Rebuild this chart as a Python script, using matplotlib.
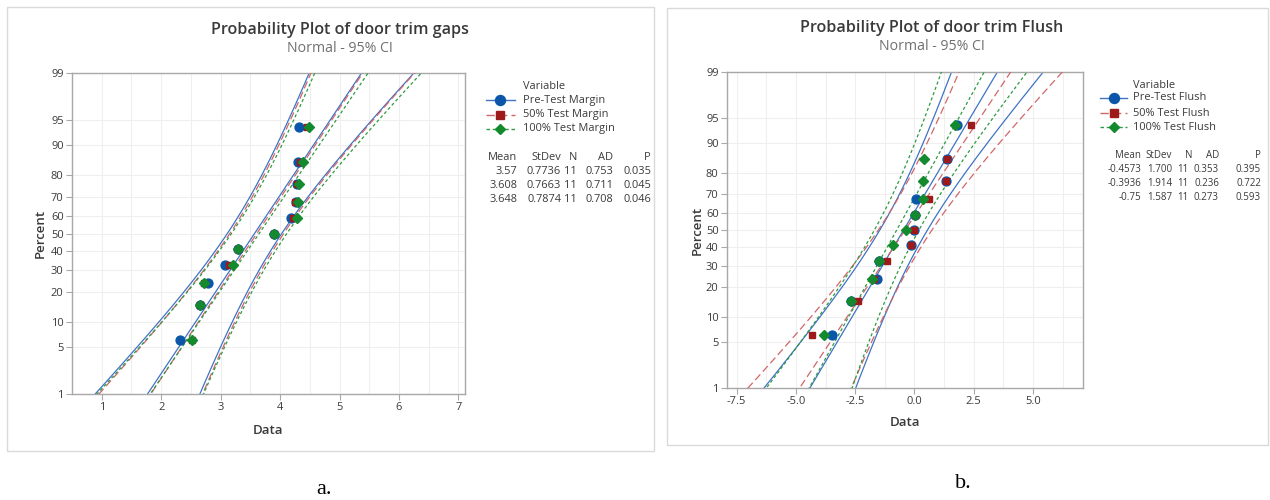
import matplotlib
matplotlib.use("Agg")
import matplotlib.pyplot as plt
from matplotlib.lines import Line2D
from matplotlib.patches import Rectangle
import numpy as np
from statistics import NormalDist

plt.rcParams['font.family'] = ['Open Sans', 'DejaVu Sans']

# ---- data ----
series_a = ["Pre-Test Margin", "50% Test Margin", "100% Test Margin"]
pre_margin = [2.31, 2.65, 2.78, 3.07, 3.29, 3.90, 4.19, 4.27, 4.29, 4.30, 4.31]
half_margin = [2.51, 2.65, 2.72, 3.14, 3.29, 3.90, 4.22, 4.25, 4.28, 4.34, 4.45]
full_margin = [2.51, 2.65, 2.72, 3.20, 3.29, 3.90, 4.29, 4.30, 4.32, 4.39, 4.49]
mean_a = [3.57, 3.608, 3.648]
sd_a = [0.7736, 0.7663, 0.7874]
ad_a = [0.753, 0.711, 0.708]
p_a = [0.035, 0.045, 0.046]

series_b = ["Pre-Test Flush", "50% Test Flush", "100% Test Flush"]
pre_flush = [-3.49, -2.68, -1.59, -1.50, -0.15, 0.00, 0.03, 0.07, 1.33, 1.37, 1.78]
half_flush = [-4.34, -2.40, -1.69, -1.17, -0.15, 0.00, 0.03, 0.60, 1.33, 1.37, 2.39]
full_flush = [-3.80, -2.68, -1.80, -1.50, -0.89, -0.36, 0.03, 0.35, 0.38, 0.42, 1.71]
mean_b = [-0.4573, -0.3936, -0.75]
sd_b = [1.700, 1.914, 1.587]
ad_b = [0.353, 0.236, 0.273]
p_b = [0.395, 0.722, 0.593]
n_obs = 11

pct_ticks = [1, 5, 10, 20, 30, 40, 50, 60, 70, 80, 90, 95, 99]

# ---- styles ----
pt_col = ['#0B56A8', '#9E1A1A', '#138A2E']
ln_col = ['#3F73C4', '#D0676A', '#2E9A42']
ln_dash = [None, (6, 3), (2.5, 2)]
mk = ['o', 's', 'D']
ms = [6.4, 4.8, 4.6]
txt = '#3A3A3A'
fs_leg = 7.9

nd = NormalDist()
W, H = 1270, 500
fig = plt.figure(figsize=(12.7, 5.0), dpi=100)


def fx(px):
    return px / W


def fy(py):
    return 1 - py / H


def prob_plot(rect, data, means, sds, names, ads, ps, xlim, xmaj, xmin,
              title, ttl_xy, leg, tbl_y, tbl_cols, tbl_fs, ylab_x, xlab_y):
    ax = fig.add_axes(rect)
    z_pts = [nd.inv_cdf((i + 1 - 0.3) / (n_obs + 0.4)) for i in range(n_obs)]
    zg = np.linspace(nd.inv_cdf(0.005), nd.inv_cdf(0.995), 200)
    for k in range(3):
        mu, s = means[k], sds[k]
        fit = mu + zg * s
        half = 1.96 * s * np.sqrt((1 + zg ** 2 / 2) / n_obs)
        for xs in (fit, fit - half, fit + half):
            l, = ax.plot(xs, zg, color=ln_col[k], lw=0.9, zorder=2 + k)
            if ln_dash[k]:
                l.set_dashes(ln_dash[k])
    for k in range(3):
        ax.plot(data[k], z_pts, ls='none', marker=mk[k], ms=ms[k],
                color=pt_col[k], mec=pt_col[k], zorder=6 + k)
    ax.set_xlim(*xlim)
    ax.set_ylim(nd.inv_cdf(0.01), nd.inv_cdf(0.99))
    ax.set_yticks([nd.inv_cdf(p / 100) for p in pct_ticks])
    ax.set_yticklabels([str(p) for p in pct_ticks])
    ax.set_xticks(xmaj)
    ax.set_xticks(xmin, minor=True)
    if xlim[0] > 0:
        ax.set_xticklabels(['%g' % v for v in xmaj])
    else:
        ax.set_xticklabels(['%.1f' % v for v in xmaj])
    ax.grid(True, which='both', color='#EFEFEF', lw=0.8, zorder=0)
    ax.set_axisbelow(True)
    for sp in ax.spines.values():
        sp.set_color('#A8A8A8')
        sp.set_linewidth(1.0)
    ax.tick_params(which='major', length=4, color='#A8A8A8', labelsize=8,
                   labelcolor=txt, pad=2)
    ax.tick_params(axis='x', which='minor', length=0)
    fig.text(ylab_x, rect[1] + rect[3] / 2, 'Percent', rotation=90,
             ha='center', va='center', fontsize=9.5, color=txt, fontweight='semibold')
    fig.text(rect[0] + rect[2] / 2, xlab_y, 'Data', ha='center', va='center',
             fontsize=9.5, color=txt, fontweight='semibold')
    fig.text(ttl_xy[0], ttl_xy[1], title, ha='center', va='center',
             fontsize=11.6, color=txt, fontweight='semibold')
    fig.text(ttl_xy[0], ttl_xy[1] - 0.036, 'Normal - 95% CI', ha='center',
             va='center', fontsize=10.2, color='#707070')

    # legend
    lx0, lx1, ltx, ly = leg
    fig.text(fx(ltx), fy(ly[0]), 'Variable', ha='left', va='center',
             fontsize=fs_leg, color=txt)
    for k in range(3):
        yy = fy(ly[k + 1])
        l = Line2D([fx(lx0), fx(lx1)], [yy, yy], transform=fig.transFigure,
                   color=ln_col[k], lw=1.0)
        if ln_dash[k]:
            l.set_dashes(ln_dash[k])
        fig.add_artist(l)
        fig.add_artist(Line2D([fx((lx0 + lx1) / 2)], [yy], transform=fig.transFigure,
                              marker=mk[k], ms=ms[k] + 0.8, color=pt_col[k], ls='none'))
        fig.text(fx(ltx), yy, names[k], ha='left', va='center', fontsize=fs_leg, color=txt)

    # stats table
    heads = ['Mean', 'StDev', 'N', 'AD', 'P']
    for c, hd in enumerate(heads):
        fig.text(fx(tbl_cols[c]), fy(tbl_y[0]), hd, ha='right', va='center',
                 fontsize=tbl_fs, color=txt)
    for k in range(3):
        vals = ['%g' % means[k],
                ('%.4g' % sds[k]) if sds[k] < 1 else '%.3f' % sds[k],
                str(n_obs), '%.3f' % ads[k], '%.3f' % ps[k]]
        for c, v in enumerate(vals):
            x = tbl_cols[c] - (4 if (c == 2 and tbl_cols[0] > 1000) else 0)
            fig.text(fx(x), fy(tbl_y[k + 1]), v, ha='right', va='center',
                     fontsize=tbl_fs, color=txt)
    return ax


# panel a
prob_plot([fx(72), fy(394), fx(465 - 72), (394 - 73) / H],
          [pre_margin, half_margin, full_margin], mean_a, sd_a, series_a, ad_a, p_a,
          (0.52, 7.11), [1, 2, 3, 4, 5, 6, 7], np.arange(0.5, 7.2, 0.5),
          'Probability Plot of door trim gaps', (fx(340), fy(30)),
          (486, 515, 523, [87, 100, 115, 129]), [157, 172, 186, 200],
          [517, 561, 577, 613, 651], fs_leg, fx(40), fy(431))

# panel b
prob_plot([fx(727), fy(388), fx(1083 - 727), (388 - 72) / H],
          [pre_flush, half_flush, full_flush], mean_b, sd_b, series_b, ad_b, p_b,
          (-7.91, 7.11), [-7.5, -5.0, -2.5, 0.0, 2.5, 5.0], np.arange(-7.5, 7.2, 1.25),
          'Probability Plot of door trim Flush', (fx(932), fy(28)),
          (1100, 1127, 1133, [85, 98, 113, 127]), [155, 169, 183, 197],
          [1141, 1172, 1192, 1219, 1261], 7.0, fx(697), fy(423))

# panel frames
fig.add_artist(Rectangle((fx(7), fy(451)), fx(654 - 7), (451 - 7) / H,
                         transform=fig.transFigure, fill=False, ec='#DADADA', lw=1.0))
fig.add_artist(Rectangle((fx(667), fy(445)), fx(1268 - 667), (445 - 8) / H,
                         transform=fig.transFigure, fill=False, ec='#DADADA', lw=1.0))

# captions
fig.text(fx(324), fy(489), 'a.', ha='center', va='center', fontsize=16,
         family='Liberation Serif', color='black')
fig.text(fx(963), fy(484), 'b.', ha='center', va='center', fontsize=16,
         family='Liberation Serif', color='black')

fig.savefig('out.png', dpi=100, facecolor='white')
